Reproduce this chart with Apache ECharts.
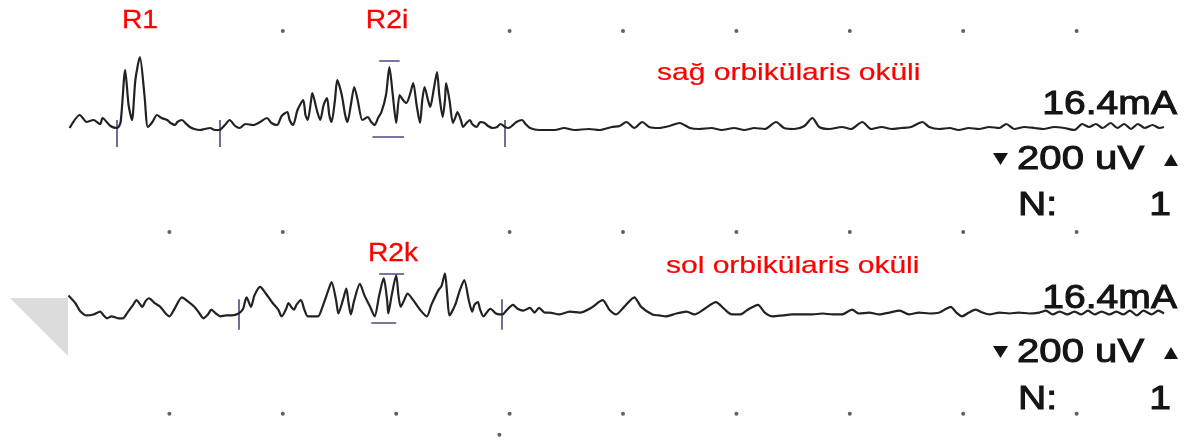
<!DOCTYPE html>
<html>
<head>
<meta charset="utf-8">
<script src="https://cdn.jsdelivr.net/npm/echarts/dist/echarts.min.js"></script>
<style>
html,body{margin:0;padding:0;background:#fff;}
#c{width:1190px;height:448px;}
</style>
</head>
<body>
<div id="c"></div>
<script>
// ---- Data (time in ms, amplitude in µV) ----
const timeTop = [1.2,2.1,2.7,3.3,3.9,4.1,4.8,5.4,5.7,6.1,6.4,6.7,7.0,7.4,7.8,8.1,8.5,8.9,9.3,9.8,10.1,10.5,10.7,11.1,11.5,11.8,12.2,12.7,13.1,13.6,14.0,14.4,14.9,15.3,15.8,16.2,16.7,17.4,18.0,18.6,19.0,19.5,19.9,20.4,20.6,20.9,21.3,21.8,22.0,22.2,22.5,22.6,23.0,23.3,23.6,23.9,24.1,24.3,24.6,24.8,25.2,25.5,25.7,26.0,26.3,26.6,27.0,27.2,27.5,27.8,28.1,28.4,28.7,29.1,29.4,29.7,30.0,30.3,30.6,30.9,31.2,31.5,31.8,32.1,32.3,32.5,32.8,33.0,33.3,33.6,33.8,34.1,34.3,34.4,34.7,35.0,35.2,35.4,35.7,35.9,36.2,36.5,36.7,37.1,37.4,37.8,38.1,38.5,38.9,39.2,39.6,39.9,40.3,40.6,41.1,41.4,41.8,42.6,44.0,44.8,45.7,47.0,47.9,49.0,49.7,50.3,51.0,51.7,52.3,53.2,54.1,55.0,55.9,56.7,57.8,58.7,59.8,60.7,61.6,62.5,63.5,64.2,65.1,66.0,66.7,67.3,68.2,69.3,70.1,71.1,71.9,72.8,73.7,74.5,75.4,76.4,77.0,77.9,78.8,79.6,80.5,81.4,82.3,83.2,83.8,84.5,85.4,86.3,87.1,88.0,88.9,89.8,90.5,91.1,91.7,92.3,93.0,93.6,94.2,94.8,95.4,96.0,96.7,97.3,97.7];
const ampTop = [0,52,24,32,16,40,8,0,24,232,92,32,192,284,132,4,24,52,40,32,20,12,24,32,16,4,-4,-8,-4,0,-8,-8,12,32,8,0,16,12,24,40,20,12,48,64,32,12,72,112,52,32,112,140,72,32,92,120,52,24,112,192,132,52,24,92,164,112,32,36,44,24,12,40,64,132,244,132,20,132,112,100,132,180,92,20,112,164,112,84,152,224,132,44,112,180,112,20,40,64,32,4,20,32,16,4,24,20,8,0,4,16,4,0,12,24,32,16,0,-8,-8,0,-8,-4,-8,4,8,24,0,24,4,0,8,20,0,-4,0,-8,0,-8,0,-4,24,0,-4,8,40,4,-4,4,-4,24,-4,4,-4,0,4,24,4,-4,0,-8,0,-4,4,0,16,-4,4,0,-4,4,0,-8,16,4,16,0,20,0,16,-4,16,0,12,0,4];

const timeBottom = [1.1,1.7,2.1,2.7,3.3,3.9,4.2,4.5,4.9,5.5,5.9,6.3,6.8,7.1,7.4,7.6,7.9,8.2,8.7,9.2,9.6,10.0,10.5,11.1,11.6,12.2,12.6,13.0,13.4,13.7,14.1,14.5,15.0,15.5,16.1,16.5,16.8,17.2,17.5,18.0,18.5,19.1,19.6,19.9,20.3,20.5,20.8,21.0,21.2,21.6,21.9,22.2,22.6,23.1,23.5,24.0,24.3,24.7,24.9,25.3,25.6,25.8,26.0,26.3,26.8,27.2,27.7,28.1,28.5,28.9,29.2,29.3,29.6,30.0,30.2,30.4,30.7,31.0,31.5,32.1,32.7,33.1,33.7,34.0,34.3,34.5,34.7,35.2,35.6,36.0,36.4,36.7,36.9,37.2,37.4,37.7,38.1,38.3,38.8,39.1,39.4,39.7,40.3,40.7,41.2,41.8,42.2,42.6,43.1,43.5,44.4,45.3,46.2,47.2,48.2,48.8,49.4,50.1,51.0,51.6,52.6,53.2,53.8,54.7,55.6,56.3,57.2,58.2,58.9,59.6,60.3,61.0,61.9,62.5,63.2,64.1,64.9,65.8,66.7,67.6,68.5,69.3,70.2,70.8,71.7,72.6,73.5,74.4,75.2,76.1,77.0,77.9,78.5,78.9,79.4,79.9,80.5,81.1,81.7,82.3,83.2,84.1,84.9,85.8,86.7,87.3,87.9,88.5,89.2,89.8,90.4,91.0,91.6,92.2,92.9,93.5,94.1,94.7,95.3,95.9,96.6,97.2,97.7];
const ampBottom = [80,48,16,-4,0,12,-4,-16,-8,-16,-16,8,40,60,44,32,56,68,48,32,8,-8,28,72,56,32,8,-16,0,20,4,-8,-4,-4,4,24,72,32,80,116,88,48,20,-8,24,48,28,20,40,60,20,-8,-8,-8,32,100,136,60,4,60,108,48,0,60,128,80,32,-8,80,152,60,4,80,164,80,32,60,88,60,20,-8,40,100,120,172,80,-4,40,100,144,60,12,40,52,20,-8,16,24,4,0,0,16,40,24,16,28,8,28,8,8,0,12,8,28,60,20,0,32,72,32,0,-4,-8,4,12,0,24,52,24,0,0,20,40,8,-8,-4,0,0,0,4,0,0,20,4,8,0,8,16,0,8,4,8,24,32,8,-8,8,20,8,0,8,4,8,4,8,16,0,12,0,12,0,16,0,12,0,12,0,16,-4,16,0,16,4];

// stimulus / latency markers (ms) and their vertical span (µV)
const stimMarksTop = [5.4, 14.4, 39.6];
const stimSpanTop = [32, -76];
const stimMarksBottom = [16.1, 39.3];
const stimSpanBottom = [64, -64];

// R2 amplitude cursors: [startMs, endMs, µV]
const cursorTop = [[28.5, 30.3, 268], [27.9, 30.7, -36]];
const cursorBottom = [[28.5, 30.7, 172], [27.8, 30.0, -36]];

// graticule dots (ms) per row, with row level (µV)
const dotsRow1 = [20, 40, 50, 60, 70, 80, 90];   const dotsRow1Level = 388;
const dotsRow2 = [10, 20, 40, 50, 60, 70, 80, 90]; const dotsRow2Level = -416;
const dotsRow3 = [10, 20, 30, 40, 50, 60, 70, 80, 90]; const dotsRow3Level = -416;
const dotsExtra = [[39.1, -504]];

// text
const peakLabels = ['R1', 'R2i', 'R2k'];
const channelNames = ['sağ orbikülaris oküli', 'sol orbikülaris oküli'];
const stimText = '16.4mA';
const gainText = '200 uV';
const sweepText = ['N:', '1'];

// ---- Chart ----
const chart = echarts.init(document.getElementById('c'), null, {renderer: 'canvas'});
const FONT = '"Liberation Sans", Arial, Helvetica, sans-serif';
const zip = (a, b) => a.map((t, i) => [t, b[i]]);

function txt(text, x, y, size, color, align, sx, strokeW) {
  const style = {text: text, x: 0, y: 0, fill: color, font: size + 'px ' + FONT,
                 textAlign: align || 'left', textVerticalAlign: 'middle'};
  if (strokeW) { style.stroke = color; style.lineWidth = strokeW; }
  return {type: 'text', x: x, y: y, scaleX: sx, z: 100, style: style};
}
function tri(points, color) {
  return {type: 'polygon', z: 100, shape: {points: points}, style: {fill: color || '#111'}};
}

const RED = '#ff0000', INK = '#141414';
const graphics = [
  tri([[10, 298], [68, 298], [68, 356]], '#dcdcdc'),
  txt(peakLabels[0], 140, 21, 25, RED, 'center', 1.13, 0.3),
  txt(peakLabels[1], 387, 21, 25, RED, 'center', 1.13, 0.3),
  txt(peakLabels[2], 393, 254, 25, RED, 'center', 1.13, 0.3),
  txt(channelNames[0], 657, 73, 24, RED, 'left', 1.25, 0.2),
  txt(channelNames[1], 666, 266, 24, RED, 'left', 1.25, 0.2)
];
[[105, 160, 206], [299, 353, 400]].forEach(function (r) {
  graphics.push(txt(stimText, 1177, r[0], 34, INK, 'right', 1.15, 1));
  graphics.push(txt(gainText, 1017, r[1], 34, INK, 'left', 1.18, 1));
  graphics.push(tri([[993, r[1] - 7], [1008, r[1] - 7], [1000.5, r[1] + 5]], INK));
  graphics.push(tri([[1164, r[1] + 6], [1178, r[1] + 6], [1171, r[1] - 6]], INK));
  graphics.push(txt(sweepText[0], 1018, r[2], 34, INK, 'left', 1.15, 1));
  graphics.push(txt(sweepText[1], 1171, r[2], 34, INK, 'right', 1.15, 1));
});

const traceStyle = {color: '#222', width: 2.2};
const markStyle = {color: '#4a4a82', width: 1.6, opacity: 1};
const dotStyle = {color: '#3a3a3a'};

chart.setOption({
  animation: false,
  backgroundColor: '#fff',
  grid: [
    {left: 56, width: 1135, top: 8, height: 240},
    {left: 56, width: 1135, top: 200, height: 260}
  ],
  xAxis: [
    {type: 'value', gridIndex: 0, min: 0, max: 100, show: false},
    {type: 'value', gridIndex: 1, min: 0, max: 100, show: false}
  ],
  yAxis: [
    {type: 'value', gridIndex: 0, min: -480, max: 480, show: false},
    {type: 'value', gridIndex: 1, min: -560, max: 480, show: false}
  ],
  graphic: graphics,
  series: [
    {type: 'scatter', xAxisIndex: 0, yAxisIndex: 0, symbolSize: 4, itemStyle: dotStyle, silent: true,
     data: dotsRow1.map(t => [t, dotsRow1Level]).concat(dotsRow2.map(t => [t, dotsRow2Level]))},
    {type: 'scatter', xAxisIndex: 1, yAxisIndex: 1, symbolSize: 4, itemStyle: dotStyle, silent: true,
     data: dotsRow3.map(t => [t, dotsRow3Level]).concat(dotsExtra)},
    {type: 'lines', coordinateSystem: 'cartesian2d', xAxisIndex: 0, yAxisIndex: 0, silent: true, lineStyle: markStyle,
     data: stimMarksTop.map(t => ({coords: [[t, stimSpanTop[0]], [t, stimSpanTop[1]]]}))
       .concat(cursorTop.map(c => ({coords: [[c[0], c[2]], [c[1], c[2]]]})))},
    {type: 'lines', coordinateSystem: 'cartesian2d', xAxisIndex: 1, yAxisIndex: 1, silent: true, lineStyle: markStyle,
     data: stimMarksBottom.map(t => ({coords: [[t, stimSpanBottom[0]], [t, stimSpanBottom[1]]]}))
       .concat(cursorBottom.map(c => ({coords: [[c[0], c[2]], [c[1], c[2]]]})))},
    {type: 'line', xAxisIndex: 0, yAxisIndex: 0, data: zip(timeTop, ampTop), showSymbol: false,
     smooth: 0.25, lineStyle: traceStyle, silent: true, z: 5},
    {type: 'line', xAxisIndex: 1, yAxisIndex: 1, data: zip(timeBottom, ampBottom), showSymbol: false,
     smooth: 0.25, lineStyle: traceStyle, silent: true, z: 5}
  ]
});
</script>
</body>
</html>
